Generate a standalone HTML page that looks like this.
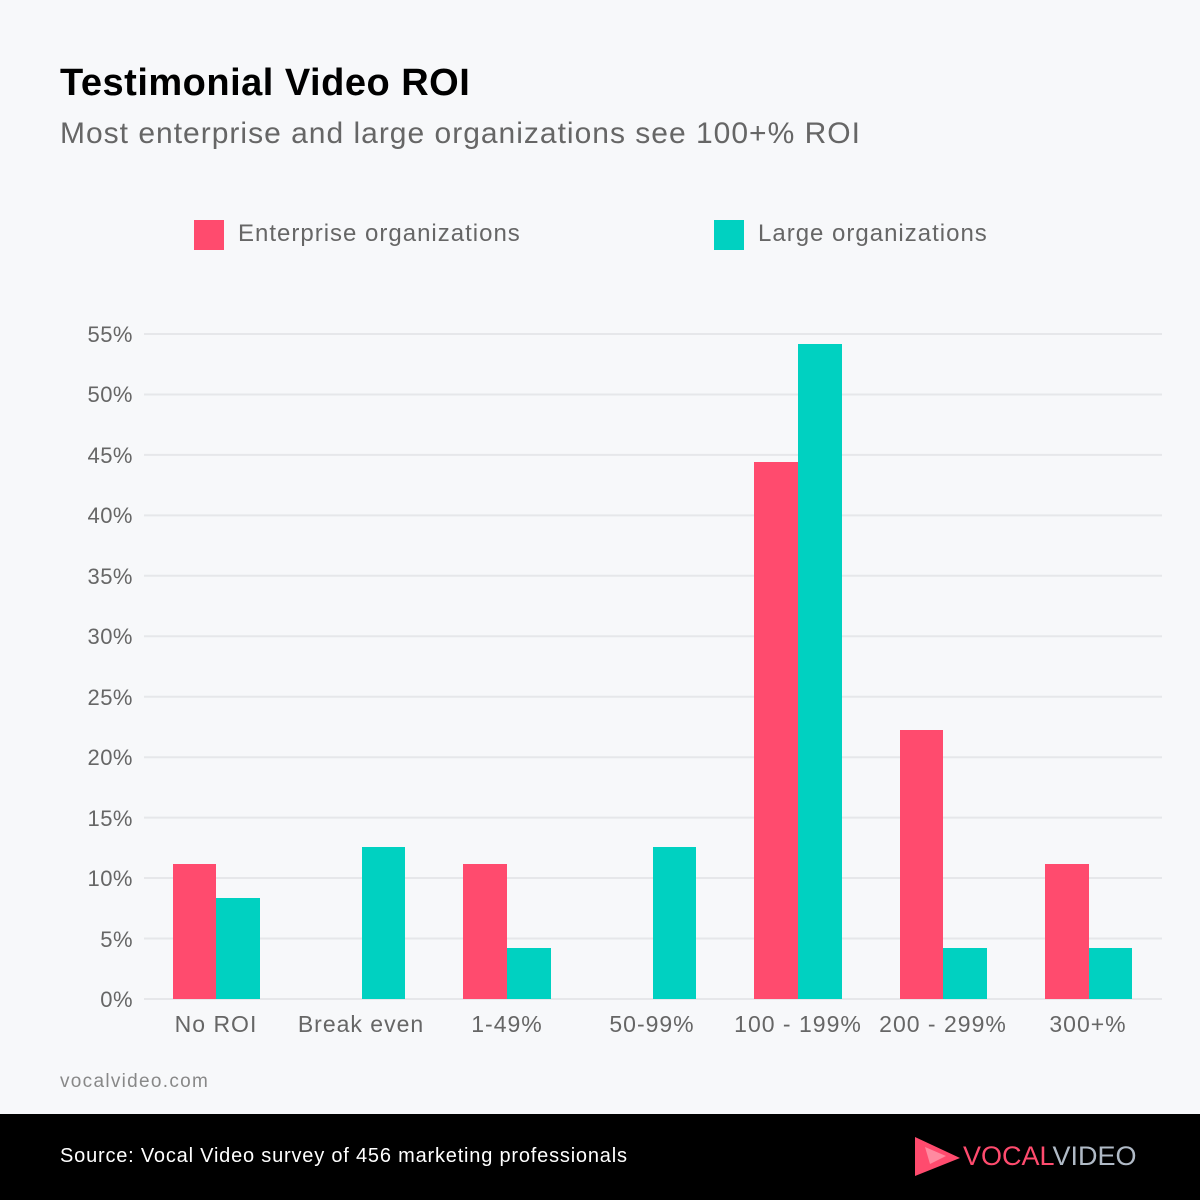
<!DOCTYPE html><html><head><style>
body{margin:0;width:1200px;height:1200px;background:#f7f8fa;font-family:"Liberation Sans",sans-serif;position:relative;overflow:hidden}
.t{position:absolute;white-space:nowrap}
</style></head><body>
<div class="t" style="left:60px;top:62px;font-size:38px;font-weight:bold;color:#000;letter-spacing:0.5px">Testimonial Video ROI</div>
<div class="t" style="left:60px;top:117px;font-size:30px;color:#666;letter-spacing:1px">Most enterprise and large organizations see 100+% ROI</div>
<div class="t" style="left:194px;top:220px;width:30px;height:30px;background:#ff4b6e"></div>
<div class="t" style="left:238px;top:220px;font-size:24px;color:#666;letter-spacing:1px">Enterprise organizations</div>
<div class="t" style="left:714px;top:220px;width:30px;height:30px;background:#00d1c1"></div>
<div class="t" style="left:758px;top:220px;font-size:24px;color:#666;letter-spacing:1px">Large organizations</div>
<svg width="1200" height="1114" style="position:absolute;left:0;top:0" font-family="Liberation Sans, sans-serif">
<g stroke="#e6e7ea" stroke-width="2">
<line x1="144" x2="1162" y1="999" y2="999"/><line x1="144" x2="1162" y1="938.5" y2="938.5"/><line x1="144" x2="1162" y1="878" y2="878"/><line x1="144" x2="1162" y1="817.6" y2="817.6"/><line x1="144" x2="1162" y1="757.2" y2="757.2"/><line x1="144" x2="1162" y1="696.7" y2="696.7"/><line x1="144" x2="1162" y1="636.3" y2="636.3"/><line x1="144" x2="1162" y1="575.8" y2="575.8"/><line x1="144" x2="1162" y1="515.4" y2="515.4"/><line x1="144" x2="1162" y1="454.9" y2="454.9"/><line x1="144" x2="1162" y1="394.5" y2="394.5"/><line x1="144" x2="1162" y1="334" y2="334"/>
</g>
<g font-size="22" fill="#666" text-anchor="end" letter-spacing="0.5">
<text x="133" y="1007">0%</text><text x="133" y="947">5%</text><text x="133" y="886">10%</text><text x="133" y="826">15%</text><text x="133" y="765">20%</text><text x="133" y="705">25%</text><text x="133" y="644">30%</text><text x="133" y="584">35%</text><text x="133" y="523">40%</text><text x="133" y="463">45%</text><text x="133" y="402">50%</text><text x="133" y="342">55%</text>
</g>
<g fill="#ff4b6e">
<rect x="173" y="864" width="43" height="135"/><rect x="463" y="864" width="44" height="135"/><rect x="754" y="462" width="44" height="537"/><rect x="900" y="730" width="43" height="269"/><rect x="1045" y="864" width="44" height="135"/>
</g>
<g fill="#00d1c1">
<rect x="216" y="898" width="44" height="101"/><rect x="362" y="847" width="43" height="152"/><rect x="507" y="948" width="44" height="51"/><rect x="653" y="847" width="43" height="152"/><rect x="798" y="344" width="44" height="655"/><rect x="943" y="948" width="44" height="51"/><rect x="1089" y="948" width="43" height="51"/>
</g>
<g font-size="23" fill="#666" text-anchor="middle" letter-spacing="1">
<text x="216" y="1032">No ROI</text><text x="361" y="1032">Break even</text><text x="507" y="1032">1-49%</text><text x="652" y="1032">50-99%</text><text x="798" y="1032">100 - 199%</text><text x="943" y="1032">200 - 299%</text><text x="1088" y="1032">300+%</text>
</g>
<text x="60" y="1087" font-size="19" fill="#888" letter-spacing="1.3">vocalvideo.com</text>
</svg>
<div style="position:absolute;left:0;top:1114px;width:1200px;height:86px;background:#000"></div>
<div class="t" style="left:60px;top:1145px;font-size:20px;color:#fff;letter-spacing:0.8px">Source: Vocal Video survey of 456 marketing professionals</div>
<svg width="60" height="50" style="position:absolute;left:910px;top:1132px"><polygon points="5,5 50,26 5,44" fill="#ff4b6e"/><polygon points="15,15 36,24 20,32" fill="#ff8aa0"/></svg>
<div class="t" style="left:963px;top:1141px;font-size:27px;letter-spacing:0px"><span style="color:#ff4b6e">VOCAL</span><span style="color:#b0bac6">VIDEO</span></div>
</body></html>
